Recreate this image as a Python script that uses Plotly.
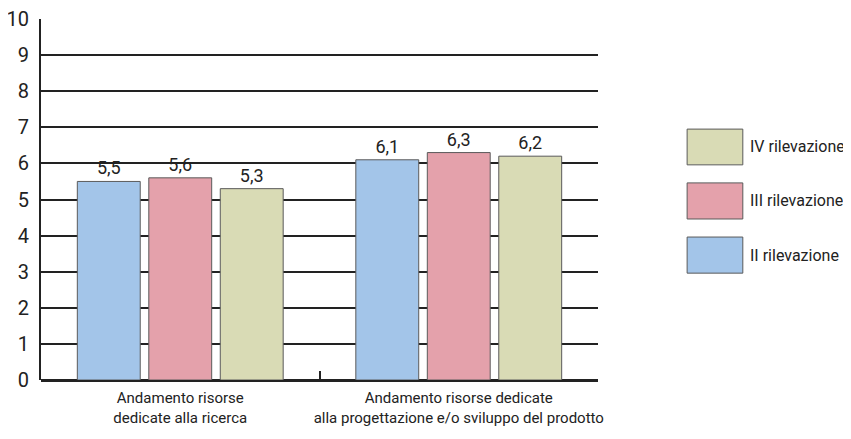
import plotly.graph_objects as go

categories = ["Andamento risorse<br>dedicate alla ricerca",
              "Andamento risorse dedicate<br>alla progettazione e/o sviluppo del prodotto"]
series_names = ["II rilevazione", "III rilevazione", "IV rilevazione"]
values_II = [5.5, 6.1]
values_III = [5.6, 6.3]
values_IV = [5.3, 6.2]
y_ticks = [0, 1, 2, 3, 4, 5, 6, 7, 8, 9, 10]

colors = ["#a3c5e9", "#e4a1ab", "#d9dbb5"]
series_values = [values_II, values_III, values_IV]

FONT = "Liberation Sans Narrow, Roboto, sans-serif"

fig = go.Figure()
for name, vals, col in zip(series_names, series_values, colors):
    fig.add_trace(go.Bar(
        x=categories, y=vals, name=name,
        marker=dict(color=col, line=dict(color="#5a5a5a", width=1)),
        texttemplate="%{y:.1f}", textposition="outside",
        textfont=dict(size=18, color="#222", family=FONT),
        cliponaxis=False, showlegend=False,
    ))

# custom legend (large swatches, top-to-bottom reversed order)
leg_y = [(0.296, 0.396), (0.446, 0.546), (0.596, 0.695)]
for name, col, (y0, y1) in zip(series_names, colors, leg_y):
    fig.add_shape(type="rect", xref="paper", yref="paper",
                  x0=1.160, x1=1.260, y0=y0, y1=y1,
                  fillcolor=col, line=dict(color="#5a5a5a", width=1))
    fig.add_annotation(xref="paper", yref="paper", x=1.270, y=(y0 + y1) / 2,
                       text=name, showarrow=False, xanchor="left", yanchor="middle",
                       font=dict(size=16, color="#222", family=FONT))

# page body has an 8px default margin, so the figure is sized/offset to compensate
fig.update_layout(
    width=843, height=431,
    margin=dict(l=33, r=253, t=11, b=59),
    paper_bgcolor="white", plot_bgcolor="white",
    barmode="group", bargap=0.23, bargroupgap=0.12,
    separators=", ",
    font=dict(family=FONT, color="#222"),
    xaxis=dict(showgrid=False, tickson="boundaries", ticks="inside", ticklen=9,
               tickwidth=2, tickcolor="#222", showline=False,
               tickangle=0, automargin=False, ticklabelstandoff=7,
               tickfont=dict(size=15, family=FONT, color="#222")),
    yaxis=dict(range=[0, 10], tickvals=y_ticks, showgrid=True, gridcolor="#222",
               gridwidth=2, zeroline=True, zerolinecolor="#222", zerolinewidth=3,
               showline=True, linecolor="#222", linewidth=2, ticks="",
               ticklabelstandoff=6, automargin=False, ticklabeloverflow="allow",
               tickfont=dict(size=20, family=FONT, color="#222")),
)

fig.write_html("out.html")
